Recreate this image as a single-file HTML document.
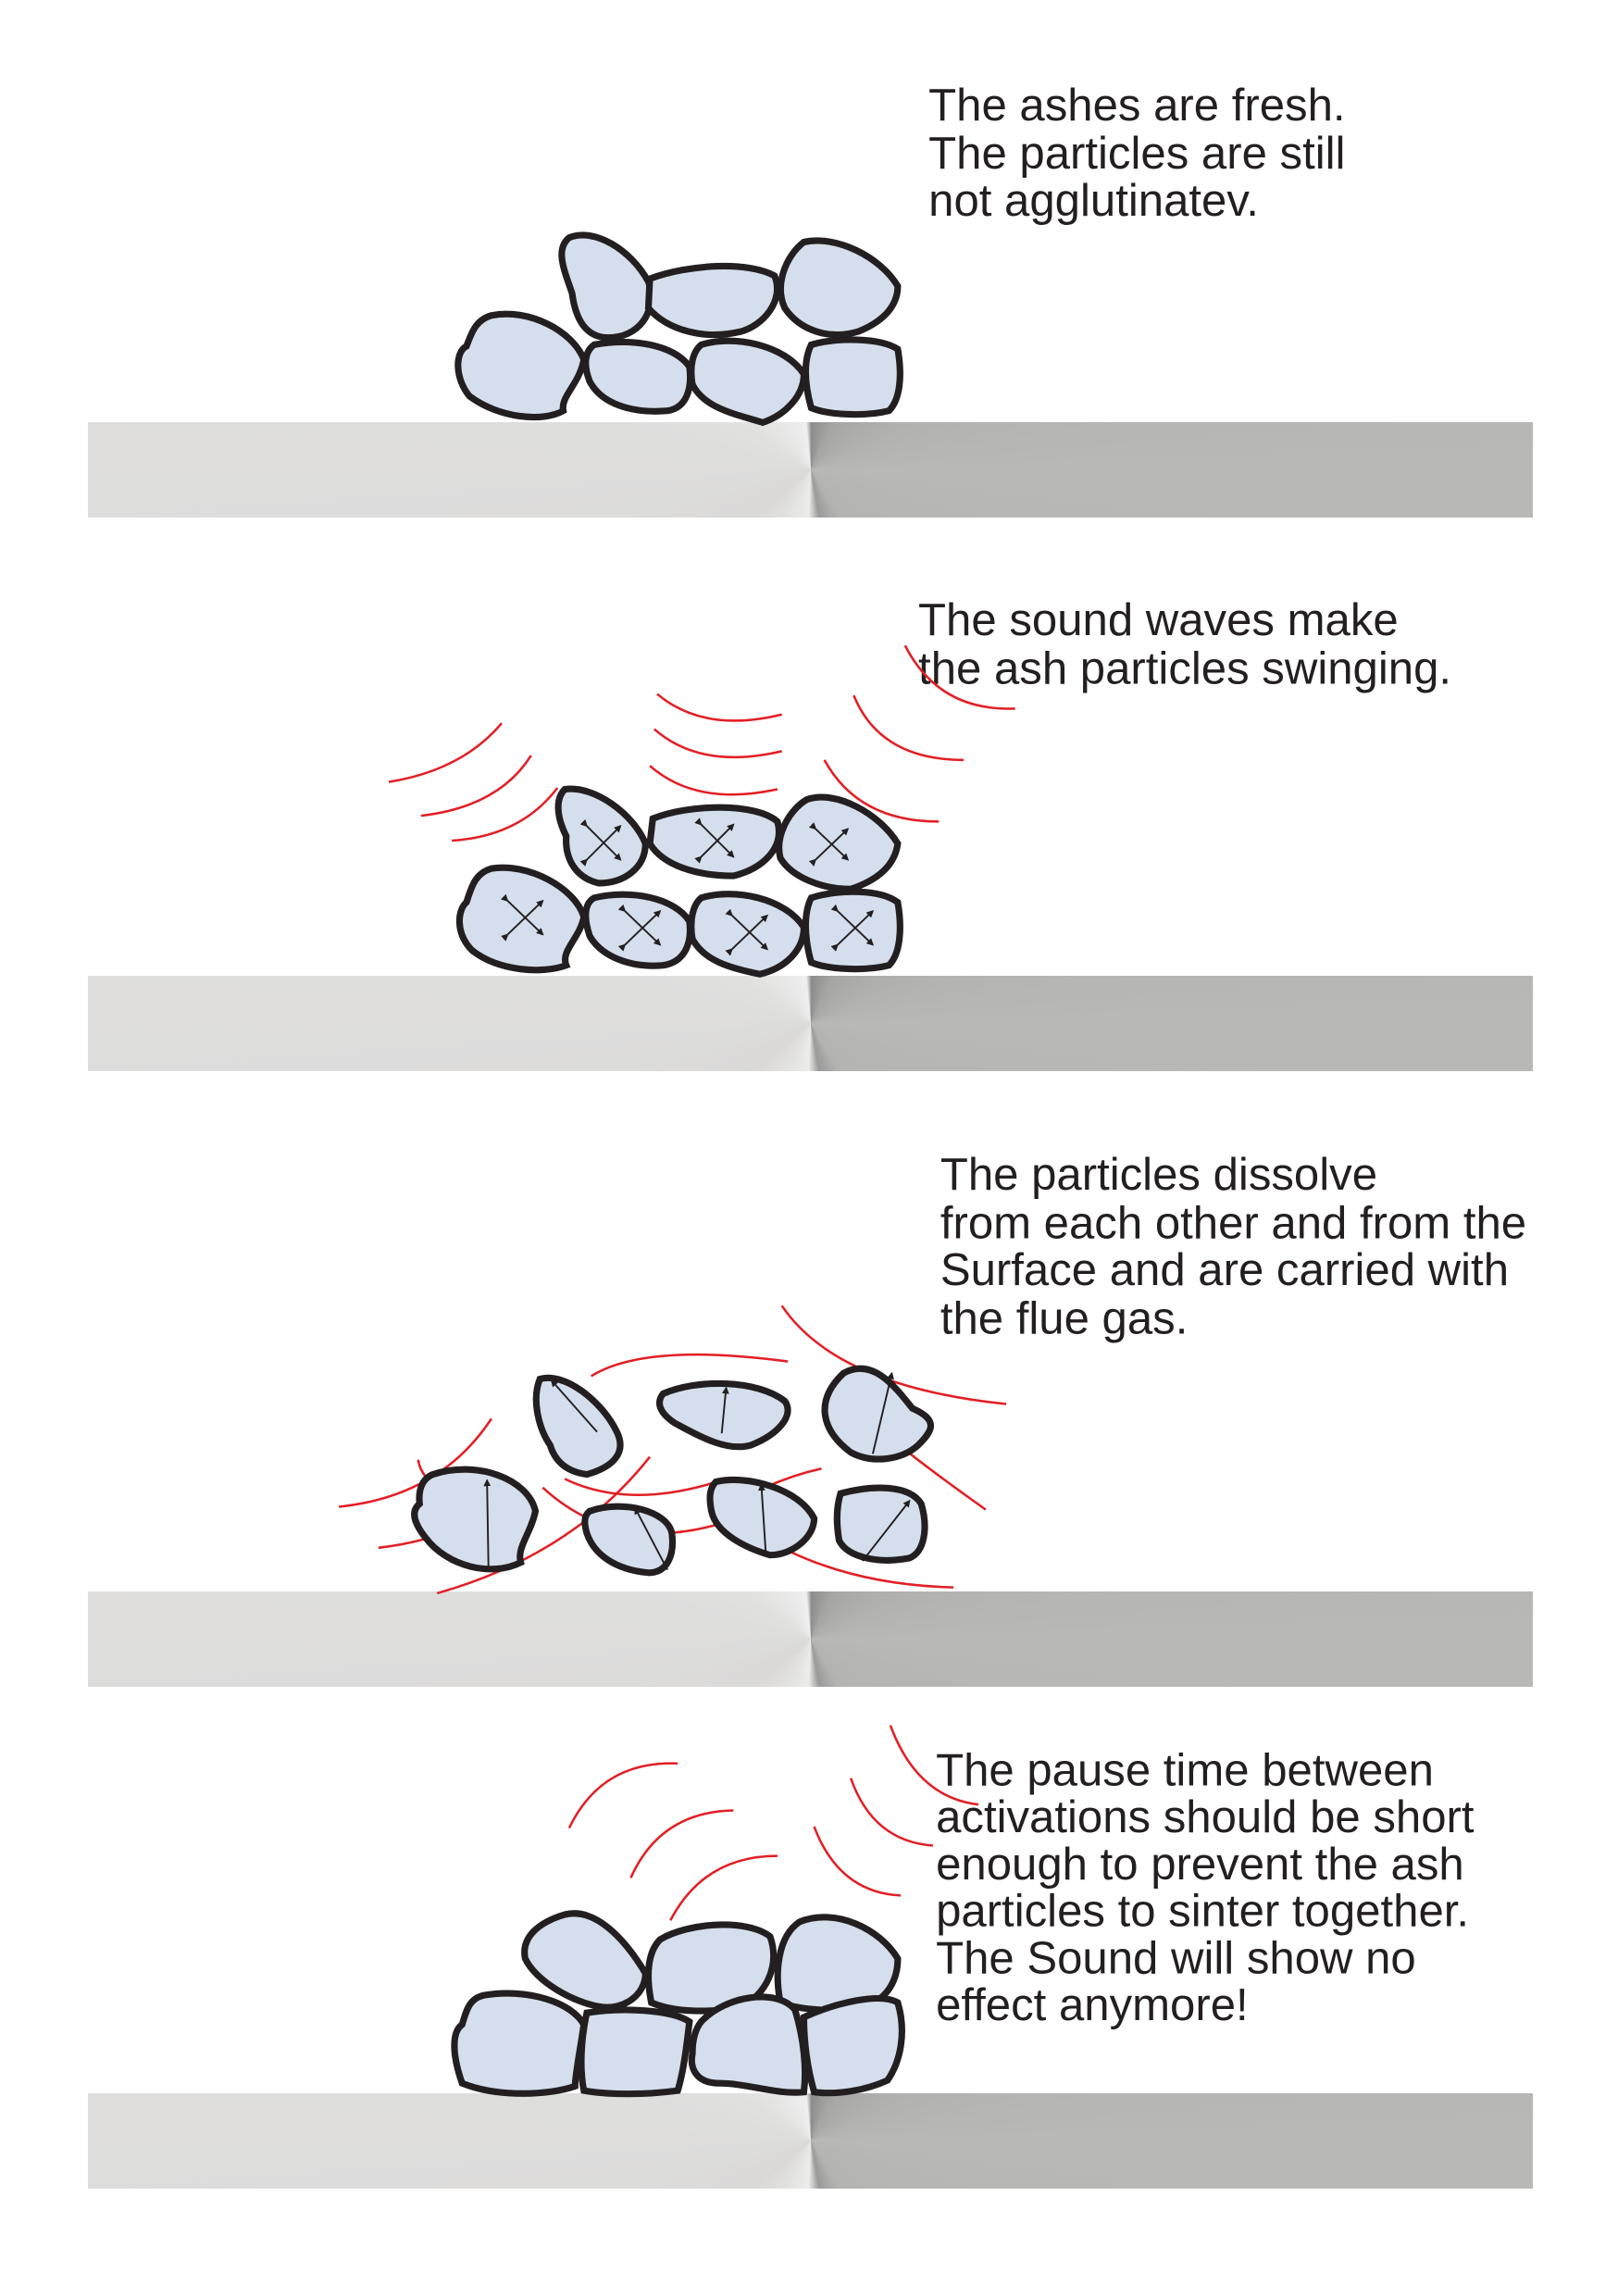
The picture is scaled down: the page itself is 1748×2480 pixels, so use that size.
<!DOCTYPE html>
<html><head><meta charset="utf-8"><style>
html,body{margin:0;padding:0;background:#fff}
#w{position:relative;width:1748px;height:2480px;overflow:hidden;background:#fff}
.bar{position:absolute;left:95px;width:1561px;height:103px;background:conic-gradient(from 0deg at 781px 51px,#8c8c8c 0deg,#a5a5a3 25deg,#b8b8b6 90deg,#b3b3b1 150deg,#9a9a9a 170deg,#ececeb 183deg,#dad9d8 230deg,#e0e0df 300deg,#efefef 354deg,#9a9a9a 360deg)}
svg{position:absolute;left:0;top:0}
text{font-family:"Liberation Sans",sans-serif;font-size:31px;fill:#231f20}
.p{fill:#d5deec;stroke:#231f20;stroke-width:4.5}
.r{fill:none;stroke:#e31e24;stroke-width:1.6}
.a{stroke:#231f20;stroke-width:1.2;fill:none}
</style></head><body><div id="w">
<div class="bar" style="top:456px"></div>
<div class="bar" style="top:1054px"></div>
<div class="bar" style="top:1719px"></div>
<div class="bar" style="top:2261px"></div>
<svg width="1748" height="2480" viewBox="0 0 1103 1565">
<defs><marker id="m" markerUnits="userSpaceOnUse" markerWidth="5" markerHeight="5" refX="4" refY="2.5" orient="auto"><path d="M0,0 L5,2.5 L0,5z" fill="#231f20"/></marker></defs>
<text x="633" y="82">The ashes are fresh.</text>
<text x="633" y="115">The particles are still</text>
<text x="633" y="147">not agglutinatev.</text>
<g class="p">
<path d="M388,162 C405,155 430,170 442,192 C448,210 438,228 418,230 C398,232 392,215 390,200 C385,185 378,170 388,162z"/>
<path d="M443,190 C470,180 510,178 528,188 C535,205 520,222 505,226 C480,232 455,225 442,210z"/>
<path d="M548,165 C570,160 600,175 612,195 C612,210 600,220 585,226 C565,232 545,225 535,210 C528,195 535,175 548,165z"/>
<path d="M335,215 C360,210 390,225 398,245 C395,262 382,270 384,280 C370,288 340,285 320,270 C310,258 310,240 318,236 C322,225 325,218 335,215z"/>
<path d="M405,235 C430,230 460,235 470,250 C472,265 468,278 455,280 C430,282 410,275 402,260 C398,250 398,240 405,235z"/>
<path d="M478,235 C500,228 535,235 548,255 C548,270 535,283 520,288 C500,282 480,278 472,262 C470,250 472,240 478,235z"/>
<path d="M553,235 C570,230 600,230 612,238 C615,255 614,272 606,280 C590,284 565,283 553,278 C548,260 548,245 553,235z"/>
</g>
<text x="626" y="433">The sound waves make</text>
<text x="626" y="466">the ash particles swinging.</text>
<g class="r">
<path d="M265,533 Q315,525 342,493"/><path d="M287,556 Q340,550 362,515"/><path d="M308,573 Q355,570 380,537"/>
<path d="M448,473 Q480,500 533,487"/><path d="M446,497 Q478,525 533,512"/><path d="M443,522 Q475,550 530,538"/>
<path d="M617,440 Q640,485 692,483"/><path d="M582,474 Q600,518 657,518"/><path d="M562,518 Q585,560 640,560"/>
</g>
<g class="p">
<path d="M385,538 C405,535 432,555 440,575 C440,592 425,602 408,602 C392,598 385,585 386,570 C380,558 378,545 385,538z"/>
<path d="M445,558 C470,548 515,547 530,560 C535,578 520,592 500,597 C475,597 452,590 443,575z"/>
<path d="M550,545 C570,538 600,555 612,575 C610,590 598,600 580,606 C560,606 540,598 532,585 C528,570 538,552 550,545z"/>
<path d="M335,592 C360,588 392,605 398,625 C395,640 382,648 386,658 C370,664 340,662 322,648 C310,636 312,620 318,615 C322,602 325,595 335,592z"/>
<path d="M405,612 C430,606 460,612 470,628 C472,644 466,656 452,658 C430,660 410,652 402,638 C398,626 398,616 405,612z"/>
<path d="M478,612 C500,605 535,612 548,632 C548,648 535,660 518,664 C498,660 480,655 472,640 C470,628 472,617 478,612z"/>
<path d="M553,612 C572,606 600,606 612,615 C615,632 614,650 606,658 C590,662 565,661 553,656 C548,638 548,622 553,612z"/>
</g>
<g class="a" marker-end="url(#m)" marker-start="url(#m)">
<path d="M400,586 L423,563"/><path d="M400,563 L423,586"/>
<path d="M478,584 L500,562"/><path d="M478,562 L500,584"/>
<path d="M556,586 L578,565"/><path d="M556,565 L578,586"/>
<path d="M346,637 L370,614"/><path d="M346,614 L370,637"/>
<path d="M426,644 L450,621"/><path d="M426,621 L450,644"/>
<path d="M499,647 L523,624"/><path d="M499,624 L523,647"/>
<path d="M571,644 L595,621"/><path d="M571,621 L595,644"/>
</g>
<text x="641" y="811">The particles dissolve</text>
<text x="641" y="844">from each other and from the</text>
<text x="641" y="876">Surface and are carried with</text>
<text x="641" y="909">the flue gas.</text>
<g class="r">
<path d="M533,890 Q570,945 686,957"/>
<path d="M231,1027 Q300,1020 335,967"/>
<path d="M258,1055 Q300,1050 320,1035"/>
<path d="M298,1086 Q390,1060 443,993"/>
<path d="M285,995 Q290,1025 360,1025"/>
<path d="M485,1035 Q520,1010 560,1001"/>
<path d="M403,938 Q440,915 537,928"/>
<path d="M514,1044 Q570,1080 650,1082"/>
<path d="M590,965 Q610,985 672,1029"/>
<path d="M385,1008 Q430,1030 495,1008"/>
<path d="M370,1014 Q420,1060 493,1038"/>
</g>
<g class="p">
<path d="M368,940 C385,935 410,955 420,975 C428,990 418,1000 400,1005 C385,1003 378,995 375,985 C368,975 362,955 368,940z"/>
<path d="M452,950 C475,940 515,940 535,955 C542,965 530,978 512,985 C495,990 475,978 460,970 C448,962 448,955 452,950z"/>
<path d="M575,936 C595,925 610,945 622,960 C640,968 636,975 626,985 C615,995 595,998 580,990 C560,975 555,955 575,936z"/>
<path d="M295,1005 C325,995 360,1008 365,1030 C362,1045 352,1055 355,1065 C335,1075 305,1068 290,1048 C282,1038 280,1030 286,1025 C285,1015 288,1008 295,1005z"/>
<path d="M402,1030 C425,1022 455,1030 458,1045 C460,1060 455,1072 442,1072 C420,1070 405,1060 400,1045 C398,1038 398,1033 402,1030z"/>
<path d="M488,1010 C510,1005 545,1015 555,1035 C555,1048 540,1060 525,1060 C508,1055 488,1045 485,1030 C483,1020 484,1014 488,1010z"/>
<path d="M573,1018 C595,1012 620,1012 628,1025 C633,1042 630,1058 620,1062 C600,1066 578,1062 572,1050 C570,1038 570,1028 573,1018z"/>
</g>
<g class="a" marker-end="url(#m)">
<path d="M407,976 L376,941"/><path d="M492,977 L495,946"/><path d="M595,991 L608,936"/>
<path d="M333,1070 L332,1009"/><path d="M455,1070 L433,1028"/><path d="M522,1058 L519,1012"/><path d="M588,1064 L620,1023"/>
</g>
<text x="638" y="1217">The pause time between</text>
<text x="638" y="1249">activations should be short</text>
<text x="638" y="1281">enough to prevent the ash</text>
<text x="638" y="1313">particles to sinter together.</text>
<text x="638" y="1345">The Sound will show no</text>
<text x="638" y="1377">effect anymore!</text>
<g class="r">
<path d="M388,1246 Q410,1200 462,1202"/><path d="M430,1280 Q450,1235 500,1234"/><path d="M457,1309 Q480,1265 530,1265"/>
<path d="M607,1176 Q625,1225 667,1230"/><path d="M580,1212 Q595,1255 636,1258"/><path d="M555,1245 Q572,1290 614,1292"/>
</g>
<g class="p">
<path d="M385,1305 C405,1300 425,1320 440,1345 C440,1360 425,1370 410,1368 C390,1365 365,1350 358,1335 C355,1320 368,1310 385,1305z"/>
<path d="M450,1322 C470,1310 510,1308 525,1320 C532,1340 522,1360 505,1368 C485,1372 460,1372 444,1365 C440,1345 442,1330 450,1322z"/>
<path d="M545,1310 C570,1300 600,1315 612,1335 C612,1350 605,1362 590,1368 C570,1372 545,1370 532,1365 C528,1345 530,1320 545,1310z"/>
<path d="M330,1360 C360,1355 390,1365 398,1380 C395,1400 392,1415 392,1422 C375,1428 340,1430 315,1420 C308,1400 308,1385 315,1380 C318,1370 320,1362 330,1360z"/>
<path d="M400,1372 C425,1368 458,1370 470,1378 C468,1395 466,1412 462,1425 C440,1428 415,1428 398,1425 C395,1410 396,1390 400,1372z"/>
<path d="M478,1378 C495,1360 530,1355 542,1370 C548,1390 550,1410 548,1426 C530,1428 510,1420 490,1420 C475,1420 470,1410 472,1400 C472,1390 474,1383 478,1378z"/>
<path d="M548,1375 C570,1365 600,1358 612,1365 C618,1385 614,1405 605,1418 C590,1425 570,1428 555,1426 C550,1408 548,1390 548,1375z"/>
</g>
</svg>
</div></body></html>
